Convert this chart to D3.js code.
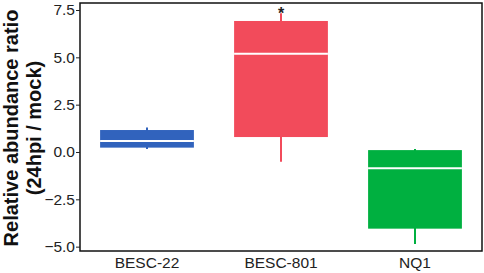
<!DOCTYPE html>
<html><head><meta charset="utf-8">
<script src="https://cdn.jsdelivr.net/npm/d3@7"></script>
<style>body{margin:0;background:#fff}svg{display:block}</style>
</head><body>
<script>
const categories = ["BESC-22", "BESC-801", "NQ1"];
const q1 = [0.23, 0.79, -4.05];
const medians = [0.58, 5.19, -0.86];
const q3 = [1.16, 6.92, 0.10];
const whiskerLow = [0.16, -0.51, -4.86];
const whiskerHigh = [1.30, 7.33, 0.16];
const colors = ["#3163BD", "#F24B5B", "#00B040"];
const yTicks = [7.5, 5.0, 2.5, 0.0, -2.5, -5.0];
const significance = ["", "*", ""];

const W = 484, H = 273;
const m = {left: 80, right: 2, top: 3, bottom: 22};
const FONT = "Liberation Sans, Arial, sans-serif";
const svg = d3.select("body").append("svg").attr("width", W).attr("height", H);

const x = d3.scaleBand().domain(categories).range([m.left, W - m.right]).paddingInner(0).paddingOuter(0);
const y = d3.scaleLinear().domain([-5.23, 7.87]).range([H - m.bottom, m.top]);
const boxW = x.bandwidth() * 0.7;

const data = categories.map((c, i) => ({c, q1: q1[i], med: medians[i], q3: q3[i], lo: whiskerLow[i], hi: whiskerHigh[i], col: colors[i], sig: significance[i]}));

const g = svg.append("g");
const gs = g.selectAll("g.box").data(data).join("g").attr("class", "box");
const cx = d => x(d.c) + x.bandwidth() / 2;
gs.append("line").attr("x1", cx).attr("x2", cx).attr("y1", d => y(d.hi)).attr("y2", d => y(d.lo))
  .attr("stroke", d => d.col).attr("stroke-width", 2);
gs.append("rect").attr("x", d => cx(d) - boxW / 2).attr("width", boxW)
  .attr("y", d => y(d.q3)).attr("height", d => y(d.q1) - y(d.q3)).attr("fill", d => d.col);
gs.append("line").attr("x1", d => cx(d) - boxW / 2).attr("x2", d => cx(d) + boxW / 2)
  .attr("y1", d => y(d.med)).attr("y2", d => y(d.med)).attr("stroke", "#fff").attr("stroke-width", 2);
gs.append("text").attr("x", cx).attr("y", d => y(d.hi) + 6).attr("text-anchor", "middle")
  .attr("font-family", FONT).attr("font-size", 16).attr("font-weight", "bold").attr("fill", "#222")
  .text(d => d.sig);

// panel border
svg.append("rect").attr("x", m.left).attr("y", m.top).attr("width", W - m.right - m.left).attr("height", H - m.bottom - m.top)
  .attr("fill", "none").attr("stroke", "#111").attr("stroke-width", 1.5);

const ya = svg.append("g").attr("transform", `translate(${m.left},0)`)
  .call(d3.axisLeft(y).tickValues(yTicks).tickFormat(d3.format(".1f")).tickSize(4).tickPadding(1));
ya.select(".domain").remove();
ya.selectAll("text").attr("font-family", FONT).attr("font-size", 15.5).attr("fill", "#222");
ya.selectAll("line").attr("stroke", "#222");

const xa = svg.append("g").attr("transform", `translate(0,${H - m.bottom})`)
  .call(d3.axisBottom(x).tickSize(0).tickPadding(6));
xa.select(".domain").remove();
xa.selectAll("text").attr("font-family", FONT).attr("font-size", 15.5).attr("fill", "#222");

const cy = (m.top + H - m.bottom) / 2 + 1;
const title = svg.append("g").attr("font-family", FONT).attr("font-weight", "bold").attr("font-size", 20).attr("fill", "#111");
title.append("text").attr("transform", `translate(18,${cy}) rotate(-90)`).attr("text-anchor", "middle").text("Relative abundance ratio");
title.append("text").attr("transform", `translate(41,${cy}) rotate(-90)`).attr("text-anchor", "middle").text("(24hpi / mock)");
</script>
</body></html>
